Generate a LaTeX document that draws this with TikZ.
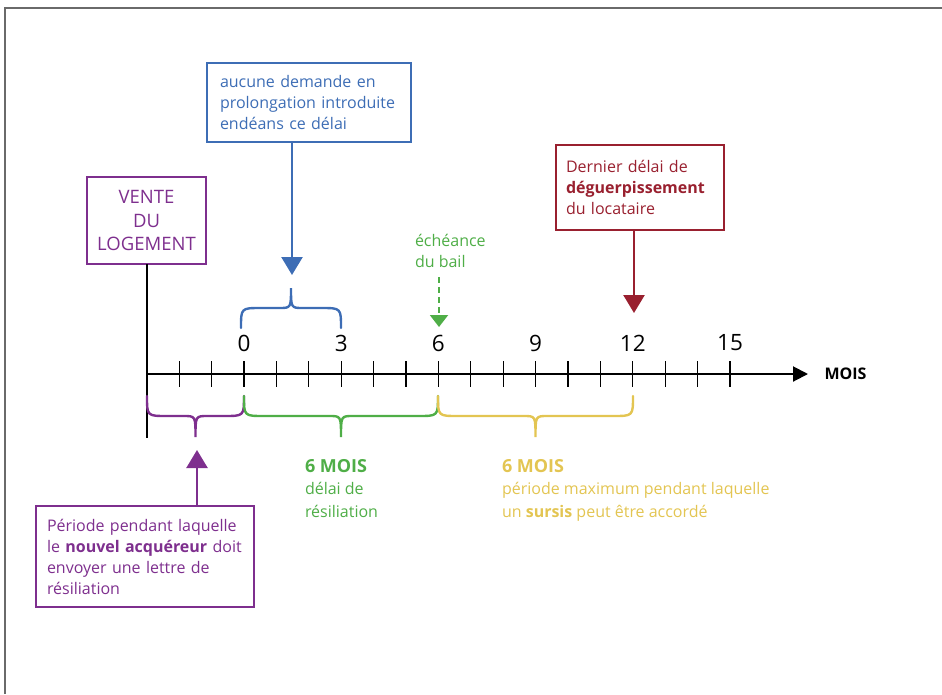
\documentclass[tikz,border=0pt]{standalone}
\usepackage{fontspec}
\setmainfont{Open Sans}
\usetikzlibrary{arrows.meta}

\definecolor{cblue}{HTML}{3D6DB5}
\definecolor{cpurple}{HTML}{7E2F8E}
\definecolor{cgreen}{HTML}{4FAE47}
\definecolor{cyellow}{HTML}{E3C552}
\definecolor{cred}{HTML}{99202F}
\definecolor{cframe}{HTML}{6A6A6A}

% curly brace between x1 and x2: ends at y_end, flat part at y_mid, tip at y_tip
\newcommand\tlBrace[6]{%
  \draw[#1,line width=2.4pt,line cap=round]
    (#2,#4) .. controls (#2,#5) .. ({#2+20},#5)
    -- ({(#2+#3)/2-12},#5) .. controls ({(#2+#3)/2},#5) .. ({(#2+#3)/2},#6)
    .. controls ({(#2+#3)/2},#5) .. ({(#2+#3)/2+12},#5)
    -- ({#3-20},#5) .. controls (#3,#5) .. (#3,#4);}

\begin{document}
\begin{tikzpicture}[x=1pt,y=-1pt,
  boxtext/.style={font=\fontsize{16}{21}\selectfont, align=left, inner sep=0pt, outer sep=0pt},
  infobox/.style={draw, line width=1.8pt, boxtext},
  pointer/.style={line width=2.4pt, -{Triangle[width=21pt,length=18pt]}},
  tick/.style={line width=1.3pt},
  num/.style={font=\fontsize{22.5}{22.5}\selectfont, inner sep=0pt}]

\useasboundingbox (0,0) rectangle (942,694);

% page frame
\draw[cframe, line width=1.6pt] (5,694) -- (5,8) -- (942,8);

% time axis
\coordinate (axstart) at (147,374);
\coordinate (axend) at (808,374);
\draw[line width=2pt, -{Triangle[width=15pt,length=15pt]}] (axstart) -- (axend);
\node[font=\bfseries\fontsize{16}{16}\selectfont, inner sep=0pt] (mois) at (845.5,374) {MOIS};

\foreach \m in {-2,...,15}{
  \pgfmathsetmacro\xx{244+32.4*\m}
  \draw[tick] (\xx,361) -- (\xx,387);
}
\foreach \m in {0,3,6,9,12,15}{
  \pgfmathsetmacro\xx{244+32.4*\m}
  \node[num] (n\m) at (\xx,343) {\m};
}

% sale of the dwelling
\node[infobox, cpurple, minimum width=119pt, minimum height=87pt, text width=110pt, align=center,
      font=\fontsize{18.5}{23.5}\selectfont] (vente) at (146.5,220.5) {VENTE\\DU\\LOGEMENT};
\coordinate (vbottom) at (147,438);
\draw[line width=2pt] (vente.south -| vbottom) -- (vbottom);

% no extension request
\node[infobox, cblue, minimum width=204pt, minimum height=79pt, text width=178pt] (blue) at (309,102.5)
  {aucune demande en\\prolongation introduite\\endéans ce délai};
\coordinate (bluetip) at (292,275);
\draw[pointer, cblue] (blue.south -| bluetip) -- (bluetip);
\tlBrace{cblue}{241}{341}{328}{308}{288}

% end of lease
\node[boxtext, cgreen, anchor=west] (echeance) at (415,251) {échéance\\du bail};
\coordinate (greentip) at (439,327);
\draw[cgreen, line width=2pt, dash pattern=on 6pt off 4pt, -{Triangle[width=18pt,length=12pt]}]
  (439,277) -- (greentip);

% last eviction deadline
\node[infobox, cred, minimum width=168pt, minimum height=85pt, text width=148pt] (red) at (640,187.5)
  {Dernier délai de\\\textbf{déguerpissement}\\du locataire};
\coordinate (redtip) at (634,313);
\draw[pointer, cred] (red.south -| redtip) -- (redtip);

% braces below the axis
\tlBrace{cpurple}{147}{244}{396}{416}{437}
\tlBrace{cgreen}{244}{438}{396}{416}{437}
\tlBrace{cyellow}{438}{633}{396}{416}{437}

% period for the new buyer
\node[infobox, cpurple, minimum width=218pt, minimum height=101pt, text width=196pt] (buyer) at (145,556.5)
  {Période pendant laquelle\\le \textbf{nouvel acquéreur} doit\\envoyer une lettre de\\résiliation};
\coordinate (purpletip) at (197,450);
\draw[pointer, cpurple] (buyer.north -| purpletip) -- (purpletip);

% period labels
\node[boxtext, cgreen, anchor=north west, font=\fontsize{16}{22.5}\selectfont] (green6) at (305,459)
  {{\bfseries\fontsize{18}{22.5}\selectfont 6 MOIS}\\délai de\\résiliation};
\node[boxtext, cyellow, anchor=north west, font=\fontsize{16}{22.5}\selectfont] (yellow6) at (502,459)
  {{\bfseries\fontsize{18}{22.5}\selectfont 6 MOIS}\\période maximum pendant laquelle\\un \textbf{sursis} peut être accordé};

\end{tikzpicture}
\end{document}
